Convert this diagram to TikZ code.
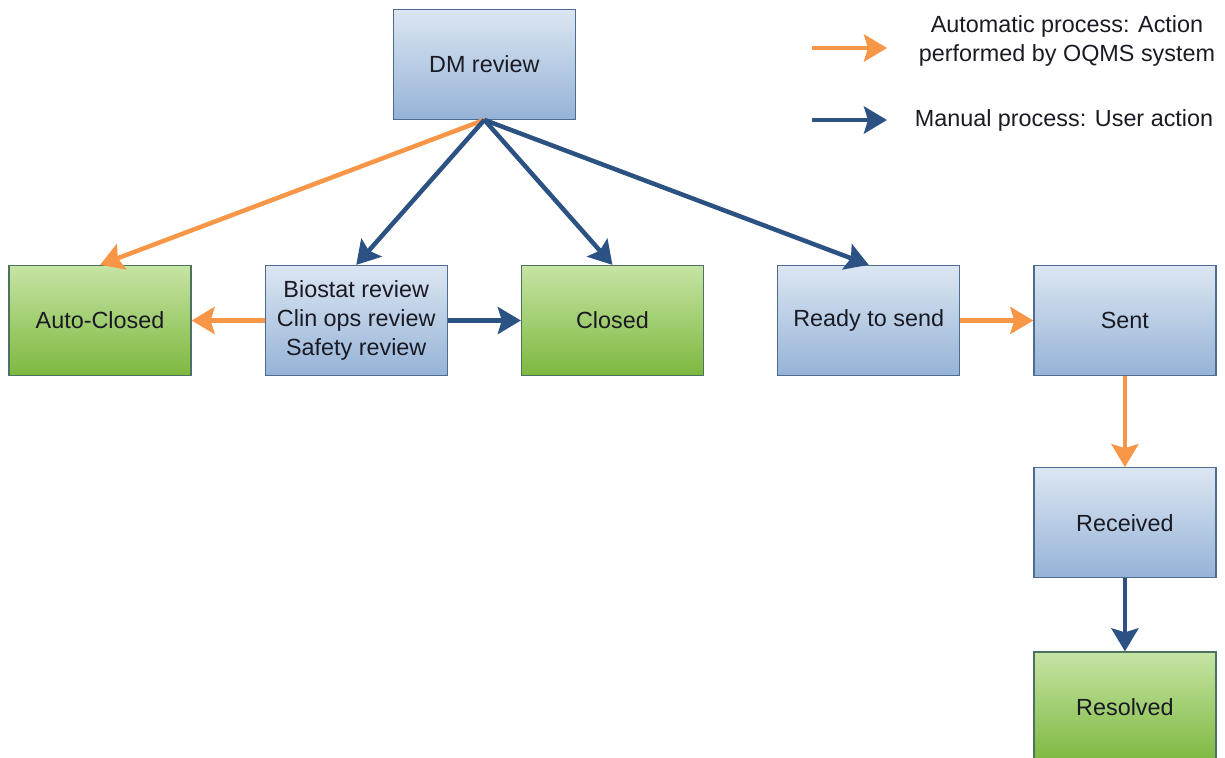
\documentclass[tikz,border=0pt]{standalone}
\usepackage{fontspec}
\setmainfont{Liberation Sans}
\usepackage{tikz}
\usetikzlibrary{arrows.meta}
\usetikzlibrary{positioning, calc}

\definecolor{autoorange}{HTML}{F79646}
\definecolor{manblue}{HTML}{2B5283}
\definecolor{bluetop}{HTML}{DCE6F2}
\definecolor{bluemid}{HTML}{BACDE6}
\definecolor{bluebot}{HTML}{95B3D7}
\definecolor{bluedraw}{HTML}{4D6C8F}
\definecolor{greentop}{HTML}{C6E4A4}
\definecolor{greenmid}{HTML}{6CCF73}
\definecolor{greenbot}{HTML}{7DB83F}
\definecolor{greendraw}{HTML}{4E7262}
\definecolor{txt}{HTML}{1A1A24}

\begin{document}
\begin{tikzpicture}[node distance=1.46cm,
  font=\fontsize{13.3}{16.5}\selectfont, text=txt,
  box/.style={rectangle, minimum width=3.64cm, minimum height=2.2cm, align=center, line width=0.7pt},
  bluebox/.style={box, draw=bluedraw, top color=bluetop, middle color=bluemid, bottom color=bluebot},
  greenbox/.style={box, draw=greendraw, top color=greentop, middle color=greenmid, bottom color=greenbot},
  autoarrow/.style={draw=autoorange, line width=0.09cm, -{Stealth[length=0.46cm, width=0.54cm, inset=0.08cm]}},
  manarrow/.style={draw=manblue, line width=0.09cm, -{Stealth[length=0.46cm, width=0.54cm, inset=0.08cm]}}]
\useasboundingbox (0,0) rectangle (24.5,-15.14);
\clip (0,0) rectangle (24.5,-15.14);

% states
\node[greenbox] (auto) at (2.0,-6.41) {Auto-Closed};
\node[bluebox] (bio) [right=of auto] {Biostat review\\Clin ops review\\Safety review};
\node[greenbox] (closed) [right=of bio] {Closed};
\node[bluebox] (ready) [right=of closed] {Ready to send};
\node[bluebox] (sent) [right=of ready] {Sent};
\node[bluebox] (recv) [below=1.82cm of sent] {Received};
\node[greenbox] (resolved) [below=of recv] {Resolved};
\coordinate (mid) at ($(bio.north)!0.5!(closed.north)$);
\node[bluebox] (DM) [above=2.9cm of mid] {DM review};

% transitions
\draw[autoarrow] (DM.south) -- (auto.north);
\draw[manarrow] (DM.south) -- (bio.north);
\draw[manarrow] (DM.south) -- (closed.north);
\draw[manarrow] (DM.south) -- (ready.north);
\draw[autoarrow] (bio) -- (auto);
\draw[manarrow] (bio) -- (closed);
\draw[autoarrow] (ready) -- (sent);
\draw[autoarrow] (sent) -- (recv);
\draw[manarrow] (recv) -- (resolved);

% legend
\node[align=center] (autotxt) at (21.34,-0.82) {Automatic process: Action\\performed by OQMS system};
\node (mantxt) at (21.28,-2.4) {Manual process: User action};
\coordinate (autoA) at (16.24,-0.96);
\coordinate (autoB) at (17.74,-0.96);
\coordinate (manA) at (16.24,-2.4);
\coordinate (manB) at (17.74,-2.4);
\draw[autoarrow] (autoA) -- (autoB);
\draw[manarrow] (manA) -- (manB);
\end{tikzpicture}
\end{document}
